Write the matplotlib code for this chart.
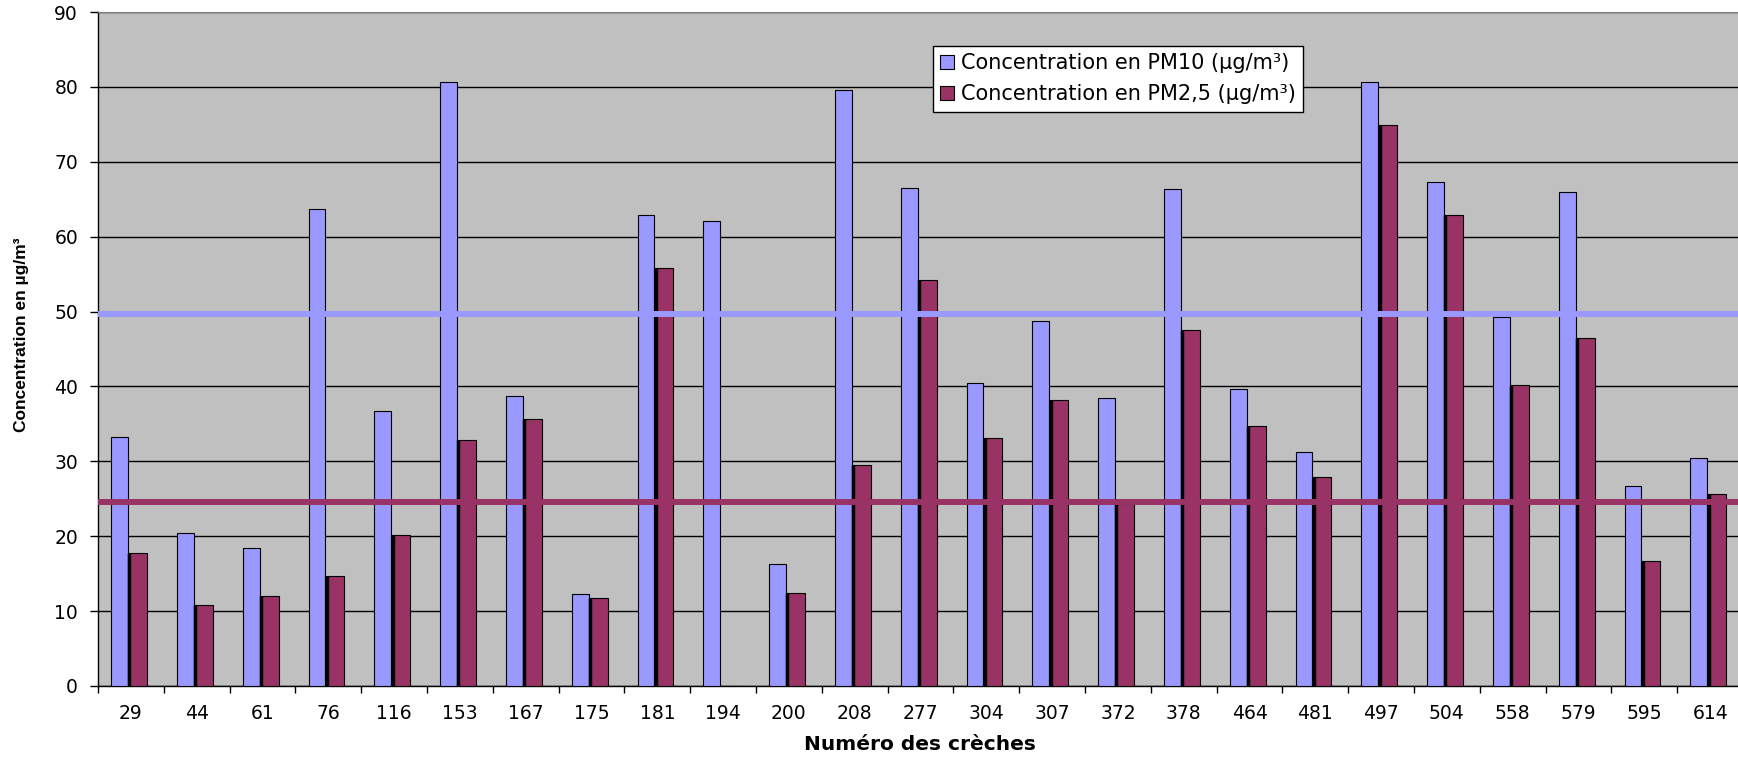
import numpy as np
import matplotlib
matplotlib.use('Agg')
import matplotlib.pyplot as plt
from matplotlib import font_manager

creches = ['29', '44', '61', '76', '116', '153', '167', '175', '181', '194', '200', '208', '277',
           '304', '307', '372', '378', '464', '481', '497', '504', '558', '579', '595', '614']
pm10 = [33.3, 20.4, 18.4, 63.7, 36.7, 80.6, 38.7, 12.3, 62.9, 62.1, 16.3, 79.6, 66.5,
        40.4, 48.7, 38.4, 66.3, 39.6, 31.3, 80.7, 67.3, 49.3, 66.0, 26.7, 30.4]
pm25 = [17.8, 10.8, 12.0, 14.7, 20.2, 32.8, 35.7, 11.8, 55.8, 0.0, 12.4, 29.5, 54.2,
        33.1, 38.2, 24.3, 47.5, 34.7, 27.9, 74.9, 62.9, 40.2, 46.5, 16.7, 25.6]
seuil_pm10 = 49.7
seuil_pm25 = 24.6

c_pm10 = '#9999FF'
c_pm25 = '#993366'

installed = {f.name for f in font_manager.fontManager.ttflist}
narrow = 'Liberation Sans Narrow' if 'Liberation Sans Narrow' in installed else 'Liberation Sans'
narrow_size = 14 if narrow == 'Liberation Sans Narrow' else 12.5

plt.rcParams['font.family'] = 'DejaVu Sans'

fig = plt.figure(figsize=(17.38, 7.6), dpi=100)
ax = fig.add_axes([0.0564, 0.0974, 0.9465, 0.8868])
ax.set_facecolor('#C0C0C0')

x = np.arange(len(creches))
ax.bar(x - 0.30, pm10, width=0.255, align='edge', color=c_pm10,
       edgecolor='black', linewidth=0.8, zorder=3, label='Concentration en PM10 (µg/m³)')
ax.bar(x - 0.045, pm25, width=0.29, align='edge', color=c_pm25,
       edgecolor='black', linewidth=0.8, zorder=3, label='Concentration en PM2,5 (µg/m³)')
# thick dark edge between the two bars
ax.vlines(x - 0.045 + 0.022, 0, pm25, colors='black', linewidth=2.5, zorder=4)

ax.axhline(seuil_pm10, color=c_pm10, linewidth=4.3, zorder=5)
ax.axhline(seuil_pm25, color=c_pm25, linewidth=4.3, zorder=5)

ax.set_xlim(-0.5, len(creches) - 0.5)
ax.set_ylim(0, 90)
ax.set_yticks(range(0, 91, 10))
ax.yaxis.grid(True, color='black', linewidth=1.0, zorder=1)
ax.set_axisbelow(True)

ax.set_xticks(x)
ax.set_xticklabels(creches, fontsize=13.5)
ax.set_xticks(np.arange(len(creches) + 1) - 0.5, minor=True)
ax.tick_params(axis='x', which='major', length=0, pad=13)
ax.tick_params(axis='x', which='minor', length=5, width=1, direction='out')
ax.tick_params(axis='y', length=5.8, width=1, pad=8.6, labelsize=13.5, direction='out')

ax.spines['right'].set_visible(False)
ax.spines['top'].set_color('#808080')
ax.spines['left'].set_linewidth(1)
ax.spines['bottom'].set_linewidth(1)

leg = ax.legend(loc='upper left', bbox_to_anchor=(0.5076, 0.950), borderaxespad=0,
                fontsize=15, fancybox=False, framealpha=1, edgecolor='black',
                handlelength=0.65, handleheight=0.65, handletextpad=0.35,
                labelspacing=0.55, borderpad=0.35)
leg.get_frame().set_linewidth(1)
leg.set_zorder(10)

fig.text(22 / 1738, 1 - 335 / 760, 'Concentration en µg/m³', rotation=90,
         ha='center', va='center', fontsize=narrow_size, fontweight='bold', family=narrow)
fig.text(920 / 1738, 1 - 750 / 760, 'Numéro des crèches', ha='center', va='baseline',
         fontsize=14.5, fontweight='bold')

fig.savefig('out.png', dpi=100, facecolor='white')
